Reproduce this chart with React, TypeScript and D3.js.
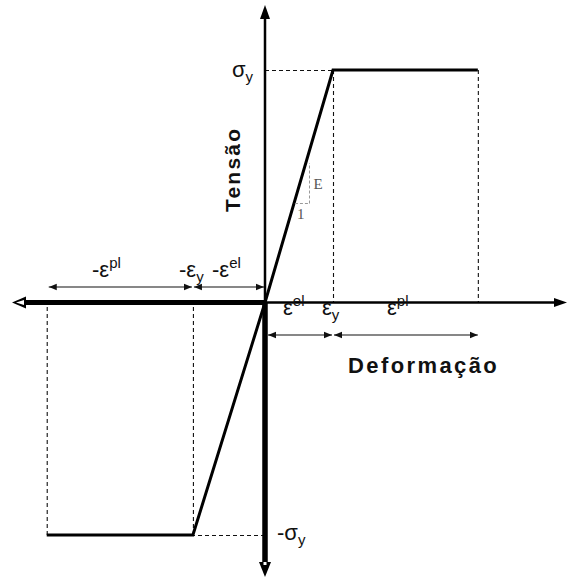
import React from "react";
import * as d3 from "d3";

// Idealised elastic–perfectly-plastic stress–strain law (strain in units of εy, stress in units of σy)
const tensionStrain = [0, 1, 3.13];
const tensionStress = [0, 1, 1];
const compressionStrain = [0, -1.06, -3.21];
const compressionStress = [0, -1, -1];

const W = 567;
const H = 578;

export default function App() {
  const x = d3.scaleLinear().domain([0, 1]).range([265, 333]);
  const y = d3.scaleLinear().domain([-1, 1]).range([535, 70]);
  const x0 = x(0);
  const y0 = y(0);

  const line = d3
    .line<[number, number]>()
    .x((d) => x(d[0]))
    .y((d) => y(d[1]));

  const tension = tensionStrain.map((e, i) => [e, tensionStress[i]] as [number, number]);
  const compression = compressionStrain.map((e, i) => [e, compressionStress[i]] as [number, number]);

  const ty = x(tensionStrain[1]);
  const tEnd = x(tensionStrain[2]);
  const cy = x(compressionStrain[1]);
  const cEnd = x(compressionStrain[2]);
  const sTop = y(1);
  const sBot = y(-1);

  // half-pixel offset keeps the 1px dashed guides crisp
  const h = 0.5;
  const dash = { stroke: "#111", strokeWidth: 1.1, strokeDasharray: "4,3", fill: "none" };
  const eps = "ε";
  const font = "Liberation Sans, Arial, sans-serif";

  // slope triangle on the elastic branch
  const triS0 = 0.43;
  const triS1 = 0.6;
  const triX = Math.round(x(triS0) + 15) + h;
  const triY = Math.round(y(triS0)) + h;

  return (
    <svg width={W} height={H} style={{ position: "absolute", left: 0, top: 0, background: "#fff" }}>
      <defs>
        <marker id="dimEnd" viewBox="0 0 10 10" refX="10" refY="5" markerWidth="8" markerHeight="8" markerUnits="userSpaceOnUse" orient="auto">
          <path d="M0,1 L10,5 L0,9 Z" fill="#111" />
        </marker>
        <marker id="dimStart" viewBox="0 0 10 10" refX="0" refY="5" markerWidth="8" markerHeight="8" markerUnits="userSpaceOnUse" orient="auto">
          <path d="M10,1 L0,5 L10,9 Z" fill="#111" />
        </marker>
      </defs>

      {/* dashed guides */}
      <line x1={x0} y1={sTop + h} x2={ty} y2={sTop + h} {...dash} />
      <line x1={ty + h} y1={sTop} x2={ty + h} y2={y0} {...dash} />
      <line x1={tEnd + h} y1={sTop} x2={tEnd + h} y2={y0} {...dash} />
      <line x1={x0} y1={sBot + h} x2={cy} y2={sBot + h} {...dash} />
      <line x1={cy + h} y1={sBot} x2={cy + h} y2={y0} {...dash} />
      <line x1={cEnd + h} y1={sBot} x2={cEnd + h} y2={y0} {...dash} />

      {/* axes: thin positive, thick negative */}
      <line x1={x0} y1={y0} x2={556} y2={y0} stroke="#000" strokeWidth={2.5} />
      <path d={`M567,${y0} L554,${y0 - 4.5} L554,${y0 + 4.5} Z`} fill="#000" />
      <line x1={x0} y1={y0} x2={22} y2={y0} stroke="#000" strokeWidth={5} />
      <path d={`M12,${y0} L26,${y0 - 6} L26,${y0 + 6} Z`} fill="#000" />
      <path d={`M16,${y0} L24,${y0 - 2.5} L24,${y0 + 2.5} Z`} fill="#fff" />

      <line x1={x0} y1={y0} x2={x0} y2={16} stroke="#000" strokeWidth={2.5} />
      <path d={`M${x0},5 L${x0 - 5},19 L${x0 + 5},19 Z`} fill="#000" />
      <line x1={x0} y1={y0} x2={x0} y2={564} stroke="#000" strokeWidth={5.5} />
      <path d={`M${x0},577 L${x0 - 6},562 L${x0 + 6},562 Z`} fill="#000" />
      <rect x={x0 - 1.5} y={562} width={3} height={3} fill="#fff" />

      {/* stress–strain branches */}
      <path d={line(tension) ?? ""} fill="none" stroke="#000" strokeWidth={3} strokeLinejoin="miter" />
      <path d={line(compression) ?? ""} fill="none" stroke="#000" strokeWidth={3} strokeLinejoin="miter" />

      {/* slope triangle */}
      <line x1={x(0.44)} y1={triY} x2={triX} y2={triY} stroke="#999" strokeWidth={1} strokeDasharray="3,2" />
      <line x1={triX} y1={triY} x2={triX} y2={y(triS1)} stroke="#999" strokeWidth={1} strokeDasharray="3,2" />
      <text x={triX + 4} y={y(0.515) + 6} fontFamily="Liberation Serif, serif" fontSize={15} fill="#555">E</text>
      <text x={x(0.44) + 2} y={y(0.43) + 16} fontFamily="Liberation Serif, serif" fontSize={15} fill="#555">1</text>

      {/* dimension arrows */}
      <line x1={cEnd + 2} y1={287} x2={cy - 1} y2={287} stroke="#111" strokeWidth={1.2} markerStart="url(#dimStart)" markerEnd="url(#dimEnd)" />
      <line x1={cy + 1} y1={287} x2={x0 - 1} y2={287} stroke="#111" strokeWidth={1.2} markerStart="url(#dimStart)" markerEnd="url(#dimEnd)" />
      <line x1={x0 + 3} y1={335} x2={ty - 1} y2={335} stroke="#111" strokeWidth={1.2} markerStart="url(#dimStart)" markerEnd="url(#dimEnd)" />
      <line x1={ty + 1} y1={335} x2={tEnd} y2={335} stroke="#111" strokeWidth={1.2} markerStart="url(#dimStart)" markerEnd="url(#dimEnd)" />

      {/* strain labels */}
      <g fontFamily={font} fontSize={22} fill="#111">
        <text x={92} y={277}>-{eps}<tspan fontSize={15} dy={-9}>pl</tspan></text>
        <text x={179} y={277}>-{eps}<tspan fontSize={15} dy={5}>y</tspan></text>
        <text x={212} y={277}>-{eps}<tspan fontSize={15} dy={-9}>el</tspan></text>
        <text x={283} y={315}>{eps}<tspan fontSize={15} dy={-9}>el</tspan></text>
        <text x={322} y={315}>{eps}<tspan fontSize={15} dy={5}>y</tspan></text>
        <text x={387} y={315}>{eps}<tspan fontSize={15} dy={-9}>pl</tspan></text>
        <text x={232} y={77}>σ<tspan fontSize={15} dy={5}>y</tspan></text>
        <text x={277} y={540}>-σ<tspan fontSize={15} dy={5}>y</tspan></text>
      </g>

      {/* axis titles */}
      <text x={348} y={373} fontFamily={font} fontWeight="bold" fontSize={22} letterSpacing={2.4} fill="#111">
        Deformação
      </text>
      <text
        transform={`translate(240,212) rotate(-90)`}
        fontFamily={font}
        fontWeight="bold"
        fontSize={21}
        letterSpacing={2.2}
        fill="#111"
      >
        Tensão
      </text>
    </svg>
  );
}
